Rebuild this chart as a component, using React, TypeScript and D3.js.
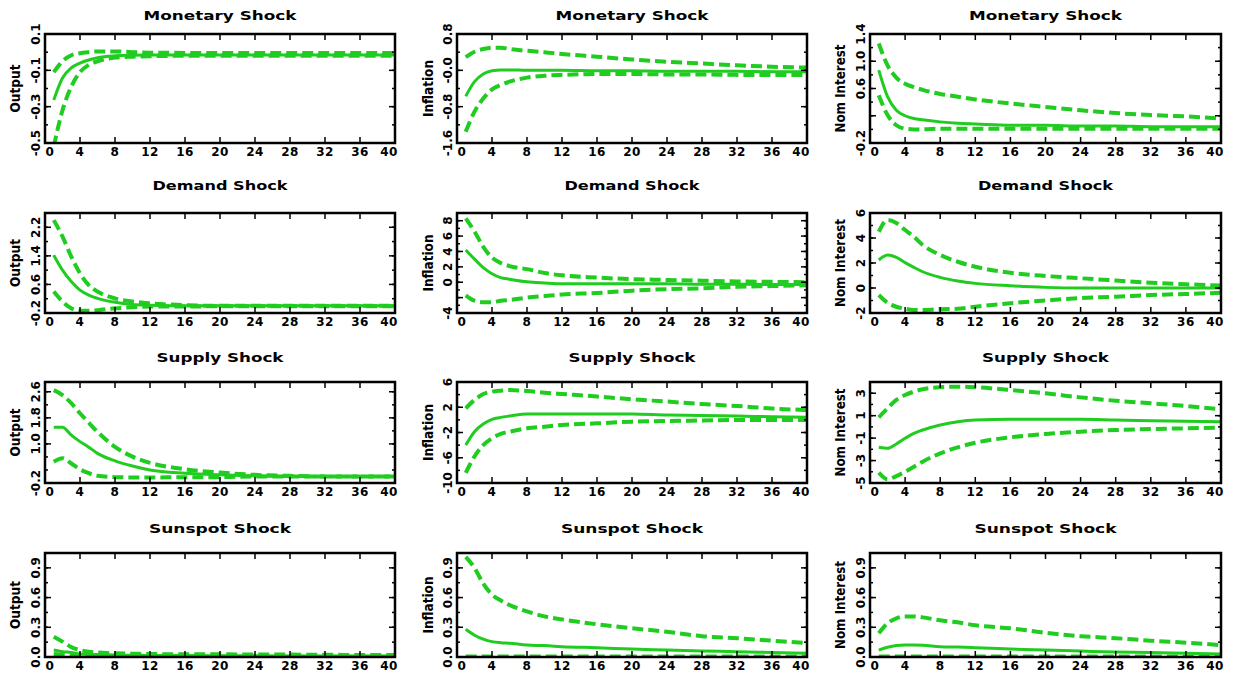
import React from 'react'
import * as d3 from 'd3'

const steps = [1, 2, 3, 4, 5, 6, 8, 10, 12, 16, 20, 24, 28, 32, 36, 40]
const xTicks = [0, 4, 8, 12, 16, 20, 24, 28, 32, 36, 40]

// Monetary shock
const monOutHi = [-0.11, -0.05, -0.017, -0.006, 0.0, 0.004, 0.004, 0.0, -0.003, -0.004, -0.005, -0.005, -0.005, -0.005, -0.005, -0.005]
const monOutMid = [-0.263, -0.142, -0.087, -0.06, -0.043, -0.03, -0.02, -0.017, -0.016, -0.015, -0.015, -0.015, -0.015, -0.015, -0.015, -0.015]
const monOutLo = [-0.52, -0.32, -0.19, -0.11, -0.07, -0.05, -0.03, -0.025, -0.022, -0.02, -0.02, -0.02, -0.02, -0.02, -0.02, -0.02]
const monInfHi = [0.29, 0.41, 0.47, 0.5, 0.5, 0.47, 0.43, 0.4, 0.36, 0.3, 0.24, 0.19, 0.15, 0.11, 0.08, 0.06]
const monInfMid = [-0.57, -0.25, -0.08, -0.01, 0.01, 0.01, 0.0, 0.0, 0.0, -0.01, -0.01, -0.02, -0.02, -0.02, -0.03, -0.03]
const monInfLo = [-1.35, -0.91, -0.62, -0.42, -0.32, -0.25, -0.16, -0.12, -0.1, -0.08, -0.08, -0.09, -0.09, -0.1, -0.1, -0.1]
const monIntHi = [1.26, 0.94, 0.76, 0.67, 0.62, 0.58, 0.52, 0.48, 0.44, 0.38, 0.33, 0.28, 0.24, 0.21, 0.19, 0.16]
const monIntMid = [0.87, 0.48, 0.28, 0.2, 0.16, 0.14, 0.11, 0.09, 0.08, 0.06, 0.06, 0.05, 0.05, 0.04, 0.04, 0.04]
const monIntLo = [0.5, 0.21, 0.06, 0.01, 0.0, 0.0, 0.01, 0.01, 0.01, 0.01, 0.01, 0.01, 0.01, 0.01, 0.01, 0.01]

// Demand shock
const demOutHi = [2.4, 1.94, 1.38, 0.91, 0.58, 0.4, 0.21, 0.12, 0.07, 0.02, 0.0, 0.0, 0.0, 0.0, 0.0, 0.0]
const demOutMid = [1.42, 1.0, 0.68, 0.44, 0.3, 0.21, 0.1, 0.04, 0.02, 0.0, 0.0, 0.0, 0.0, 0.0, 0.0, 0.0]
const demOutLo = [0.4, 0.12, -0.07, -0.14, -0.14, -0.12, -0.07, -0.04, -0.02, -0.02, -0.01, -0.01, -0.01, -0.01, -0.01, -0.01]
const demInfHi = [8.3, 6.6, 4.6, 3.2, 2.5, 2.1, 1.7, 1.2, 0.9, 0.6, 0.4, 0.3, 0.2, 0.1, 0.05, 0.0]
const demInfMid = [4.2, 3.0, 1.9, 1.1, 0.6, 0.4, 0.05, -0.1, -0.2, -0.2, -0.2, -0.2, -0.25, -0.25, -0.3, -0.3]
const demInfLo = [-1.7, -2.4, -2.6, -2.6, -2.4, -2.3, -2.0, -1.8, -1.6, -1.4, -1.1, -0.9, -0.8, -0.6, -0.5, -0.4]
const demIntHi = [4.5, 5.44, 5.2, 4.64, 4.1, 3.44, 2.64, 2.1, 1.7, 1.22, 0.96, 0.78, 0.6, 0.42, 0.3, 0.2]
const demIntMid = [2.24, 2.64, 2.45, 2.03, 1.65, 1.3, 0.85, 0.56, 0.37, 0.18, 0.05, 0.0, 0.0, 0.0, 0.0, 0.0]
const demIntLo = [-0.56, -1.18, -1.5, -1.66, -1.76, -1.76, -1.7, -1.66, -1.5, -1.22, -1.0, -0.8, -0.7, -0.56, -0.48, -0.38]

// Supply shock
const supOutHi = [2.65, 2.5, 2.25, 1.94, 1.65, 1.37, 0.91, 0.61, 0.42, 0.22, 0.12, 0.05, 0.02, 0.0, 0.0, 0.0]
const supOutMid = [1.51, 1.51, 1.27, 1.07, 0.9, 0.71, 0.48, 0.32, 0.2, 0.1, 0.05, 0.02, 0.0, 0.0, 0.0, 0.0]
const supOutLo = [0.45, 0.56, 0.4, 0.22, 0.1, 0.02, -0.02, -0.03, -0.03, -0.02, -0.02, 0.0, 0.0, 0.0, 0.0, 0.0]
const supInfHi = [1.83, 3.15, 4.1, 4.47, 4.63, 4.73, 4.57, 4.3, 4.1, 3.7, 3.26, 2.9, 2.5, 2.2, 1.8, 1.56]
const supInfMid = [-4.0, -1.87, -0.66, 0.08, 0.4, 0.6, 0.93, 0.93, 0.93, 0.93, 0.93, 0.77, 0.7, 0.6, 0.5, 0.4]
const supInfLo = [-8.4, -5.8, -4.0, -2.9, -2.2, -1.87, -1.34, -1.08, -0.8, -0.55, -0.28, -0.18, -0.1, 0.0, 0.0, 0.0]
const supIntHi = [0.85, 1.65, 2.4, 2.84, 3.14, 3.35, 3.53, 3.58, 3.53, 3.29, 2.99, 2.63, 2.33, 2.1, 1.86, 1.57]
const supIntMid = [-1.82, -1.91, -1.52, -1.02, -0.57, -0.28, 0.17, 0.46, 0.61, 0.67, 0.67, 0.67, 0.61, 0.55, 0.5, 0.46]
const supIntLo = [-4.08, -4.67, -4.38, -4.0, -3.55, -3.1, -2.36, -1.82, -1.41, -0.93, -0.63, -0.43, -0.28, -0.19, -0.13, -0.07]

// Sunspot shock
const sunOutHi = [0.205, 0.155, 0.1, 0.07, 0.054, 0.045, 0.037, 0.033, 0.03, 0.028, 0.027, 0.025, 0.024, 0.022, 0.021, 0.02]
const sunOutMid = [0.07, 0.054, 0.045, 0.03, 0.027, 0.024, 0.02, 0.017, 0.016, 0.014, 0.013, 0.012, 0.011, 0.011, 0.01, 0.01]
const sunOutLo = [0.03, 0.02, 0.014, 0.01, 0.008, 0.006, 0.005, 0.004, 0.004, 0.003, 0.003, 0.003, 0.003, 0.003, 0.003, 0.003]
const sunInfHi = [1.01, 0.9, 0.74, 0.63, 0.57, 0.525, 0.46, 0.41, 0.38, 0.33, 0.29, 0.255, 0.21, 0.19, 0.165, 0.14]
const sunInfMid = [0.28, 0.22, 0.18, 0.155, 0.145, 0.14, 0.12, 0.115, 0.104, 0.094, 0.08, 0.07, 0.06, 0.054, 0.045, 0.037]
const sunInfLo = [0.005, 0.005, 0.005, 0.005, 0.005, 0.005, 0.005, 0.005, 0.005, 0.005, 0.005, 0.005, 0.005, 0.005, 0.005, 0.005]
const sunIntHi = [0.24, 0.34, 0.39, 0.41, 0.41, 0.4, 0.37, 0.35, 0.32, 0.29, 0.245, 0.21, 0.19, 0.165, 0.145, 0.12]
const sunIntMid = [0.07, 0.098, 0.115, 0.12, 0.12, 0.118, 0.104, 0.1, 0.094, 0.08, 0.07, 0.06, 0.05, 0.045, 0.037, 0.03]
const sunIntLo = [0.004, 0.004, 0.004, 0.004, 0.004, 0.004, 0.004, 0.004, 0.004, 0.004, 0.004, 0.004, 0.004, 0.004, 0.004, 0.004]

// y axes: [min, max], major tick values and their printed labels
const monOutDomain = [-0.5, 0.1]
const monOutTicks = [0.1, -0.1, -0.3, -0.5]
const monOutLabels = ['0.1', '-0.1', '-0.3', '-0.5']
const monInfDomain = [-1.6, 0.8]
const monInfTicks = [0.8, 0, -0.8, -1.6]
const monInfLabels = ['0.8', '-0.0', '-0.8', '-1.6']
const monIntDomain = [-0.2, 1.4]
const monIntTicks = [1.4, 1.0, 0.6, 0.2, -0.2]
const monIntLabels = ['1.4', '1.0', '0.6', '', '-0.2']
const demOutDomain = [-0.2, 2.6]
const demOutTicks = [2.2, 1.4, 0.6, -0.2]
const demOutLabels = ['2.2', '1.4', '0.6', '-0.2']
const demInfDomain = [-4, 9]
const demInfTicks = [8, 6, 4, 2, 0, -2, -4]
const demInfLabels = ['8', '6', '4', '2', '0', '', '-4']
const demIntDomain = [-2, 6]
const demIntTicks = [6, 4, 2, 0, -2]
const demIntLabels = ['6', '4', '2', '0', '-2']
const supOutDomain = [-0.2, 2.9]
const supOutTicks = [2.6, 1.8, 1.0, -0.2]
const supOutLabels = ['2.6', '1.8', '1.0', '-0.2']
const supInfDomain = [-10, 6]
const supInfTicks = [6, 2, -2, -6, -10]
const supInfLabels = ['6', '2', '-2', '-6', '-10']
const supIntDomain = [-5, 4]
const supIntTicks = [3, 1, -1, -3, -5]
const supIntLabels = ['3', '1', '-1', '-3', '-5']
const sunDomain = [0, 1.05]
const sunTicks = [0.9, 0.6, 0.3, 0.0]
const sunLabels = ['0.9', '0.6', '0.3', '0.0']

const shockTitles = ['Monetary Shock', 'Demand Shock', 'Supply Shock', 'Sunspot Shock']
const variableNames = ['Output', 'Inflation', 'Nom Interest']

// layout (pixels)
const COLS = [[45, 395], [457, 807], [870, 1221]]
const ROWS = [[34, 143], [213, 313], [382, 483], [553, 657]]
const TITLE_Y = [15, 185, 357, 528]
const TITLE_W = [153, 135, 127, 142]
const YLABEL_X = [15, 428, 840]
const YLABEL_W = [48, 57, 88]
const GREEN = '#1fcc1f'
const FONT = '"DejaVu Sans", Verdana, sans-serif'

const panels = [
    { row: 0, col: 0, domain: monOutDomain, ticks: monOutTicks, labels: monOutLabels, minor: 0.1, hi: monOutHi, mid: monOutMid, lo: monOutLo },
    { row: 0, col: 1, domain: monInfDomain, ticks: monInfTicks, labels: monInfLabels, minor: 0.4, hi: monInfHi, mid: monInfMid, lo: monInfLo },
    { row: 0, col: 2, domain: monIntDomain, ticks: monIntTicks, labels: monIntLabels, minor: 0.2, hi: monIntHi, mid: monIntMid, lo: monIntLo },
    { row: 1, col: 0, domain: demOutDomain, ticks: demOutTicks, labels: demOutLabels, minor: 0.4, hi: demOutHi, mid: demOutMid, lo: demOutLo },
    { row: 1, col: 1, domain: demInfDomain, ticks: demInfTicks, labels: demInfLabels, minor: 1, hi: demInfHi, mid: demInfMid, lo: demInfLo },
    { row: 1, col: 2, domain: demIntDomain, ticks: demIntTicks, labels: demIntLabels, minor: 1, hi: demIntHi, mid: demIntMid, lo: demIntLo },
    { row: 2, col: 0, domain: supOutDomain, ticks: supOutTicks, labels: supOutLabels, minor: 0.4, hi: supOutHi, mid: supOutMid, lo: supOutLo },
    { row: 2, col: 1, domain: supInfDomain, ticks: supInfTicks, labels: supInfLabels, minor: 2, hi: supInfHi, mid: supInfMid, lo: supInfLo },
    { row: 2, col: 2, domain: supIntDomain, ticks: supIntTicks, labels: supIntLabels, minor: 1, hi: supIntHi, mid: supIntMid, lo: supIntLo },
    { row: 3, col: 0, domain: sunDomain, ticks: sunTicks, labels: sunLabels, minor: 0.15, hi: sunOutHi, mid: sunOutMid, lo: sunOutLo },
    { row: 3, col: 1, domain: sunDomain, ticks: sunTicks, labels: sunLabels, minor: 0.15, hi: sunInfHi, mid: sunInfMid, lo: sunInfLo },
    { row: 3, col: 2, domain: sunDomain, ticks: sunTicks, labels: sunLabels, minor: 0.15, hi: sunIntHi, mid: sunIntMid, lo: sunIntLo },
]

function Panel({ p, idx }: { p: any; idx: number }) {
    const [x0, x1] = COLS[p.col]
    const [y0, y1] = ROWS[p.row]
    const x = d3.scaleLinear().domain([0, 40]).range([x0, x1])
    const y = d3.scaleLinear().domain(p.domain).range([y1, y0])
    const line = d3
        .line<number>()
        .x((_, i) => x(steps[i]))
        .y((d) => y(d))
        .curve(d3.curveMonotoneX)

    // minor ticks every p.minor, anchored on the first major tick
    const eps = 1e-9
    const minors = d3
        .range(-80, 81)
        .map((k) => p.ticks[0] + k * p.minor)
        .filter((v) => v >= p.domain[0] - eps && v <= p.domain[1] + eps)

    const clipId = `clip-${idx}`
    return (
        <g>
            <defs>
                <clipPath id={clipId}>
                    <rect x={x0} y={y0} width={x1 - x0} height={y1 - y0} />
                </clipPath>
            </defs>
            <text
                x={(x0 + x1) / 2}
                y={TITLE_Y[p.row]}
                textAnchor="middle"
                dominantBaseline="central"
                fontFamily={FONT}
                fontWeight="bold"
                fontSize={13}
                textLength={TITLE_W[p.row]}
                lengthAdjust="spacingAndGlyphs"
            >
                {shockTitles[p.row]}
            </text>
            <g clipPath={`url(#${clipId})`} fill="none" stroke={GREEN}>
                <path d={line(p.hi) || ''} strokeWidth={4} strokeDasharray="11,5" />
                <path d={line(p.lo) || ''} strokeWidth={4} strokeDasharray="11,5" />
                <path d={line(p.mid) || ''} strokeWidth={3} />
            </g>
            {/* x ticks, bottom and top */}
            {xTicks.map((t) => (
                <g key={'x' + t}>
                    <line x1={x(t)} x2={x(t)} y1={y1} y2={y1 - 6} stroke="black" strokeWidth={1.5} />
                    <line x1={x(t)} x2={x(t)} y1={y0} y2={y0 + 6} stroke="black" strokeWidth={1.5} />
                    <text
                        x={x(t) + (t === 0 ? 5 : t === 40 ? -6 : 0)}
                        y={y1 + 9}
                        textAnchor="middle"
                        dominantBaseline="central"
                        fontFamily={FONT}
                        fontWeight="bold"
                        fontSize={12}
                        letterSpacing={0.5}
                    >
                        {t}
                    </text>
                </g>
            ))}
            {/* y ticks, left and right */}
            {minors.map((v, i) => (
                <g key={'m' + i}>
                    <line x1={x0} x2={x0 + 3} y1={y(v)} y2={y(v)} stroke="black" strokeWidth={1.5} />
                    <line x1={x1} x2={x1 - 3} y1={y(v)} y2={y(v)} stroke="black" strokeWidth={1.5} />
                </g>
            ))}
            {p.ticks.map((v: number, i: number) => (
                <g key={'y' + i}>
                    <line x1={x0} x2={x0 + 6} y1={y(v)} y2={y(v)} stroke="black" strokeWidth={1.5} />
                    <line x1={x1} x2={x1 - 6} y1={y(v)} y2={y(v)} stroke="black" strokeWidth={1.5} />
                    <text
                        transform={`translate(${x0 - 9},${y(v)}) rotate(-90)`}
                        textAnchor="middle"
                        dominantBaseline="central"
                        fontFamily={FONT}
                        fontWeight="bold"
                        fontSize={12}
                    >
                        {p.labels[i]}
                    </text>
                </g>
            ))}
            <text
                transform={`translate(${YLABEL_X[p.col]},${(y0 + y1) / 2}) rotate(-90)`}
                textAnchor="middle"
                dominantBaseline="central"
                fontFamily={FONT}
                fontWeight="bold"
                fontSize={14}
                textLength={YLABEL_W[p.col]}
                lengthAdjust="spacingAndGlyphs"
            >
                {variableNames[p.col]}
            </text>
            <rect x={x0} y={y0} width={x1 - x0} height={y1 - y0} fill="none" stroke="black" strokeWidth={2.5} />
        </g>
    )
}

export default function App() {
    return (
        <div style={{ position: 'absolute', left: 0, top: 0 }}>
            <svg width={1241} height={674} style={{ display: 'block', background: 'white' }}>
                {panels.map((p, i) => (
                    <Panel key={i} p={p} idx={i} />
                ))}
            </svg>
        </div>
    )
}
